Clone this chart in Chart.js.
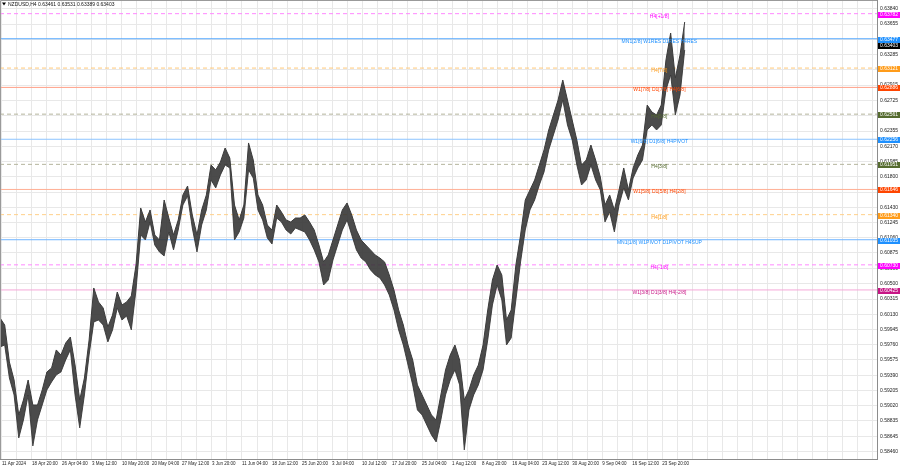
<!DOCTYPE html>
<html>
<head>
<meta charset="utf-8">
<script src="https://cdn.jsdelivr.net/npm/chart.js@4.4.1/dist/chart.umd.min.js"></script>
<style>
html, body { margin: 0; padding: 0; background: #fff; }
canvas { display: block; }
</style>
</head>
<body>
<canvas id="priceChart" width="900" height="468"></canvas>
<script>
// NZDUSD H4, one sample every 5 bars (high / low of the bars in that sample)
const barsPerSample = 5;
const highs = [
    0.60085, 0.59999, 0.59550, 0.59331, 0.58906, 0.59088, 0.59331, 0.59027, 0.59027, 0.59210,
    0.59428, 0.59477, 0.59696, 0.59635, 0.59780, 0.59853, 0.59513, 0.59088, 0.59355, 0.59817,
    0.60449, 0.60279, 0.60206, 0.59975, 0.60121, 0.60400, 0.60242, 0.60279, 0.60352, 0.60728,
    0.61421, 0.61251, 0.61397, 0.61093, 0.61032, 0.61518, 0.61299, 0.61093, 0.61275, 0.61579,
    0.61688, 0.61336, 0.61093, 0.61397, 0.61579, 0.61943, 0.61883, 0.61980, 0.62150, 0.62028,
    0.61457, 0.61275, 0.61457, 0.62211, 0.62004, 0.61579, 0.61457, 0.61214, 0.61153, 0.61457,
    0.61372, 0.61275, 0.61251, 0.61299, 0.61299, 0.61336, 0.61251, 0.61153, 0.60971, 0.60765,
    0.60850, 0.61032, 0.61214, 0.61397, 0.61482, 0.61336, 0.61153, 0.61032, 0.60971, 0.60911,
    0.60850, 0.60813, 0.60765, 0.60607, 0.60425, 0.60182, 0.59999, 0.59756, 0.59574, 0.59271,
    0.59149, 0.59027, 0.58906, 0.58845, 0.59149, 0.59453, 0.59635, 0.59756, 0.59574, 0.59088,
    0.59210, 0.59392, 0.59513, 0.59756, 0.60182, 0.60546, 0.60728, 0.60607, 0.60060, 0.60182,
    0.60728, 0.61093, 0.61518, 0.61640, 0.61761, 0.61943, 0.62126, 0.62369, 0.62551, 0.62733,
    0.62976, 0.62733, 0.62490, 0.62247, 0.61943, 0.62004, 0.62186, 0.62004, 0.61798, 0.61457,
    0.61579, 0.61397, 0.61640, 0.61907, 0.61640, 0.61907, 0.62065, 0.62186, 0.62672, 0.62587,
    0.62551, 0.62672, 0.63219, 0.63547, 0.63000, 0.63280, 0.63681
];
const lows = [
    0.59732, 0.59756, 0.59355, 0.59149, 0.58626, 0.58845, 0.59149, 0.58529, 0.58845, 0.59027,
    0.59210, 0.59307, 0.59392, 0.59428, 0.59574, 0.59696, 0.59149, 0.58748, 0.59149, 0.59635,
    0.60036, 0.60060, 0.59999, 0.59793, 0.59939, 0.60206, 0.60060, 0.60109, 0.59939, 0.60425,
    0.61093, 0.61032, 0.61251, 0.60971, 0.60886, 0.60838, 0.61129, 0.60911, 0.61153, 0.61457,
    0.61567, 0.61178, 0.60886, 0.61214, 0.61397, 0.61761, 0.61664, 0.61822, 0.61943, 0.61907,
    0.61032, 0.61129, 0.61299, 0.61883, 0.61785, 0.61397, 0.61275, 0.61056, 0.60983, 0.61299,
    0.61251, 0.61153, 0.61105, 0.61178, 0.61153, 0.61129, 0.61032, 0.60911, 0.60765, 0.60485,
    0.60546, 0.60789, 0.60971, 0.61153, 0.61275, 0.61093, 0.60911, 0.60813, 0.60765, 0.60668,
    0.60607, 0.60570, 0.60485, 0.60364, 0.60182, 0.59939, 0.59756, 0.59513, 0.59271, 0.58967,
    0.58906, 0.58784, 0.58663, 0.58578, 0.58845, 0.59149, 0.59331, 0.59453, 0.59271, 0.58481,
    0.58967, 0.59149, 0.59271, 0.59453, 0.59817, 0.60242, 0.60485, 0.60303, 0.59756, 0.59841,
    0.60303, 0.60765, 0.61153, 0.61397, 0.61518, 0.61700, 0.61858, 0.62126, 0.62308, 0.62490,
    0.62733, 0.62429, 0.62247, 0.61943, 0.61700, 0.61761, 0.61943, 0.61761, 0.61640, 0.61251,
    0.61372, 0.61129, 0.61457, 0.61664, 0.61518, 0.61785, 0.61907, 0.62004, 0.62369, 0.62429,
    0.62369, 0.62429, 0.62855, 0.63037, 0.62551, 0.62794, 0.63341
];

// last bar O H L C
const lastBar = [0.63461, 0.63531, 0.63389, 0.63403];

// time axis: one label every 32 bars, grid every 16
const timeLabels = [
    '11 Apr 2024', '18 Apr 20:00', '26 Apr 04:00', '3 May 12:00', '10 May 20:00',
    '20 May 04:00', '27 May 12:00', '3 Jun 20:00', '11 Jun 04:00', '18 Jun 12:00',
    '25 Jun 20:00', '3 Jul 04:00', '10 Jul 12:00', '17 Jul 20:00', '25 Jul 04:00',
    '1 Aug 12:00', '8 Aug 20:00', '16 Aug 04:00', '23 Aug 12:00', '30 Aug 20:00',
    '9 Sep 04:00', '16 Sep 12:00', '23 Sep 20:00'
];
const firstLabelBar = 2;
const barsPerLabel = 32;
const totalBars = 935;

const priceTicks = [
    0.63840, 0.63655, 0.63470, 0.63285, 0.63100, 0.62915, 0.62725, 0.62545, 0.62355, 0.62170,
    0.61985, 0.61800, 0.61615, 0.61430, 0.61245, 0.61060, 0.60875, 0.60690, 0.60500, 0.60315,
    0.60130, 0.59945, 0.59760, 0.59575, 0.59390, 0.59205, 0.59020, 0.58835, 0.58645, 0.58460
];
const priceMin = 0.58371;
const priceMax = 0.63948;

// Murrey-style levels
const levelPrices = [0.63782, 0.63477, 0.63121, 0.62886, 0.62561, 0.62256, 0.61951, 0.61646, 0.61340, 0.61035, 0.60730, 0.60425];
const levelNames = [
    'H4[+1/8]', 'MN1[2/8] W1RES D1RES H4RES', 'H4[7/8]', 'W1[7/8] D1[7/8] H4[6/8]',
    'H4[5/8]', 'W1[6/8] D1[6/8] H4PIVOT', 'H4[3/8]', 'W1[5/8] D1[5/8] H4[2/8]',
    'H4[1/8]', 'MN1[1/8] W1PIVOT D1PIVOT H4SUP', 'H4[-1/8]', 'W1[3/8] D1[3/8] H4[-2/8]'
];
const levelColors = ['#ff00ff', '#1e90ff', '#ff9c1a', '#ff4500', '#556b2f', '#1e90ff', '#556b2f', '#ff4500', '#ff9c1a', '#1e90ff', '#ff00ff', '#c71585'];
const levelLineColors = ['#ff88ff', '#55a8ff', '#ffc879', '#ff9f86', '#b4b49c', '#8cc4ff', '#b4b49c', '#ffb096', '#ffd08a', '#6fb4ff', '#ff88ff', '#f5a8d8'];
const levelDashed = [true, false, true, false, true, false, true, false, true, false, true, false];
const levelLabelBar = 703;

const FONT = '"Liberation Sans", Arial, sans-serif';

let candleHigh = highs.map((v, i) => ({x: i * barsPerSample, y: v}));
let candleLow = lows.map((v, i) => ({x: i * barsPerSample, y: v}));

let datasets = [{
    data: candleHigh,
    borderColor: '#3a3a3a',
    borderWidth: 1,
    backgroundColor: 'rgba(50,50,50,0.88)',
    fill: '+1',
    pointRadius: 0,
    tension: 0,
    order: 0
}, {
    data: candleLow,
    borderColor: '#505050',
    borderWidth: 1,
    fill: false,
    pointRadius: 0,
    tension: 0,
    order: 0
}];

levelPrices.forEach((p, i) => {
    datasets.push({
        data: [{x: 0, y: p}, {x: totalBars, y: p}],
        borderColor: levelLineColors[i],
        borderWidth: 1,
        borderDash: levelDashed[i] ? [4, 3] : [],
        pointRadius: 0,
        fill: false,
        order: 5
    });
});

const overlayPlugin = {
    id: 'overlay',
    afterDraw(chart) {
        const ctx = chart.ctx;
        const area = chart.chartArea;
        const xs = chart.scales.x;
        const ys = chart.scales.y;
        ctx.save();

        // frame
        ctx.strokeStyle = '#9a9a9a';
        ctx.lineWidth = 1;
        ctx.beginPath();
        ctx.moveTo(0.5, area.bottom);
        ctx.lineTo(0.5, 0.5);
        ctx.lineTo(area.right, 0.5);
        ctx.stroke();

        // level texts
        ctx.font = '5px ' + FONT;
        ctx.textAlign = 'center';
        ctx.textBaseline = 'middle';
        levelPrices.forEach((p, i) => {
            ctx.fillStyle = levelColors[i];
            ctx.fillText(levelNames[i], xs.getPixelForValue(levelLabelBar), ys.getPixelForValue(p) + 2.5);
        });

        // price boxes on the right axis
        const boxes = levelPrices.map((p, i) => [p, levelColors[i]]);
        boxes.push([lastBar[3], '#000000']);
        ctx.textAlign = 'left';
        boxes.forEach(([p, c]) => {
            const y = Math.round(ys.getPixelForValue(p));
            ctx.fillStyle = c;
            ctx.fillRect(area.right + 1, y - 2, 22, 6);
            ctx.fillStyle = '#ffffff';
            ctx.fillText(p.toFixed(5), area.right + 3, y + 1);
        });

        // header
        ctx.fillStyle = '#000';
        ctx.beginPath();
        ctx.moveTo(2, 2.5);
        ctx.lineTo(6, 2.5);
        ctx.lineTo(4, 5.5);
        ctx.closePath();
        ctx.fill();
        ctx.fillStyle = '#111';
        ctx.font = '5px ' + FONT;
        ctx.fillText('NZDUSD,H4 ' + lastBar.map(v => v.toFixed(5)).join(' '), 8, 4.5);
        ctx.restore();
    }
};

let ctx = document.getElementById('priceChart').getContext('2d');
let myChart = new Chart(ctx, {
    type: 'line',
    data: {datasets: datasets},
    plugins: [overlayPlugin],
    options: {
        responsive: false,
        animation: false,
        devicePixelRatio: 1,
        layout: {padding: 0},
        plugins: {
            legend: {display: false},
            tooltip: {enabled: false}
        },
        scales: {
            x: {
                type: 'linear',
                min: 0,
                max: totalBars,
                afterBuildTicks: function (scale) {
                    let t = [];
                    for (let b = firstLabelBar; b <= totalBars; b += barsPerLabel / 2) {
                        t.push({value: b});
                    }
                    scale.ticks = t;
                },
                afterFit: function (scale) {
                    scale.height = 9;
                    scale.paddingLeft = 0;
                    scale.paddingRight = 0;
                },
                ticks: {
                    autoSkip: false,
                    maxRotation: 0,
                    minRotation: 0,
                    align: 'start',
                    padding: 2,
                    color: '#222',
                    font: {size: 4.5, family: FONT},
                    callback: function (value) {
                        let k = (value - firstLabelBar) / barsPerLabel;
                        return Number.isInteger(k) && k < timeLabels.length ? timeLabels[k] : '';
                    }
                },
                grid: {
                    color: '#e8e8e8',
                    drawTicks: false
                },
                border: {display: true, color: '#8c8c8c'}
            },
            y: {
                position: 'right',
                min: priceMin,
                max: priceMax,
                afterBuildTicks: function (scale) {
                    scale.ticks = priceTicks.map(v => ({value: v}));
                },
                afterFit: function (scale) {
                    scale.width = 23;
                    scale.paddingTop = 0;
                    scale.paddingBottom = 0;
                },
                ticks: {
                    padding: 3,
                    color: '#222',
                    font: {size: 5, family: FONT},
                    callback: function (value) {
                        return value.toFixed(5);
                    }
                },
                grid: {
                    color: '#e8e8e8',
                    drawTicks: false
                },
                border: {display: true, color: '#8c8c8c'}
            }
        }
    }
});
</script>
</body>
</html>
